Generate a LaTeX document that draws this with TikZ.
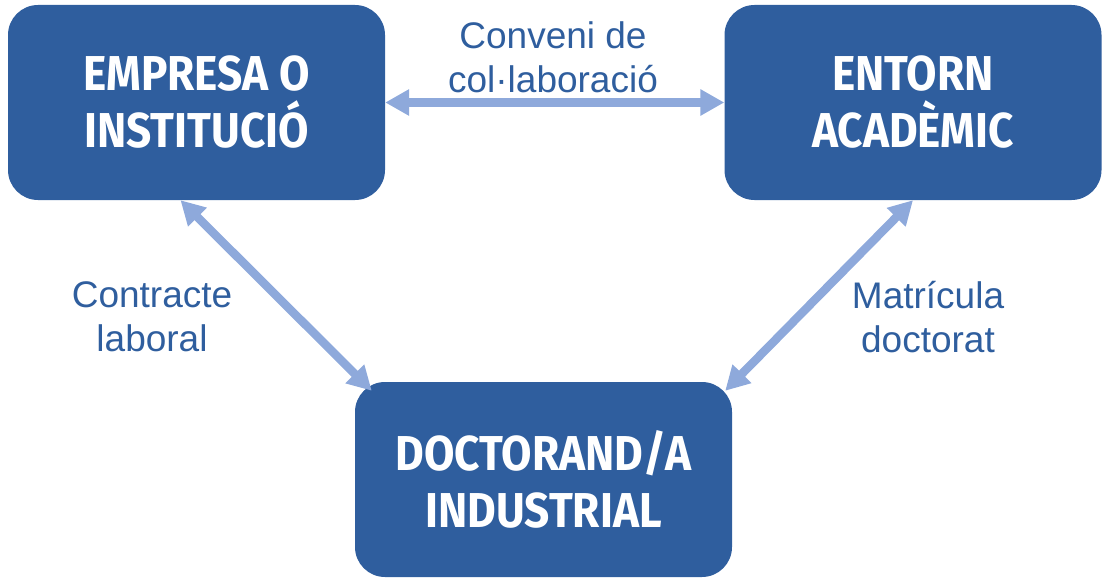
\documentclass[tikz,border=0pt]{standalone}
\usepackage{fontspec}
\setmainfont{Liberation Sans}
\newfontfamily\boxfont[FakeStretch=0.9]{Fira Sans}
\usetikzlibrary{arrows.meta,calc}
\definecolor{boxblue}{HTML}{2F5E9E}
\definecolor{arrblue}{HTML}{8EA9DB}
\definecolor{txtblue}{HTML}{2F5E9E}
\begin{document}
\begin{tikzpicture}[x=1pt,y=-1pt,
 entity/.style={fill=boxblue, rounded corners=30pt, minimum width=377pt, minimum height=195pt, text=white, font=\boxfont\bfseries\fontsize{49}{57}\selectfont, align=center, inner sep=0pt},
 link/.style={draw=arrblue, line width=8.5pt, {Triangle[length=24pt,width=25pt]}-{Triangle[length=24pt,width=25pt]}},
 lbl/.style={text=txtblue, font=\fontsize{37}{44}\selectfont, align=center}]
\useasboundingbox (0,0) rectangle (1105,578);
\node[entity] (emp) at (196.5,102.5) {EMPRESA O\\INSTITUCIÓ};
\node[entity] (ent) at (913,102.5) {ENTORN\\ACADÈMIC};
\node[entity] (doc) at (543.5,479.5) {DOCTORAND/A\\INDUSTRIAL};
\coordinate (a1) at ($(emp.south)+(-16,0)$);
\coordinate (b1) at ($(doc.north west)+(17,9)$);
\coordinate (b2) at ($(doc.north east)+(-7,9)$);
\draw[link] (emp.east) -- (ent.west);
\draw[link] (a1) -- (b1);
\draw[link] (ent.south) -- (b2);
\node[lbl] (l1) at (553,57) {Conveni de\\col·laboració};
\node[lbl] (l2) at (152,317) {Contracte\\laboral};
\node[lbl] (l3) at (928,317) {Matrícula\\doctorat};
\end{tikzpicture}
\end{document}
